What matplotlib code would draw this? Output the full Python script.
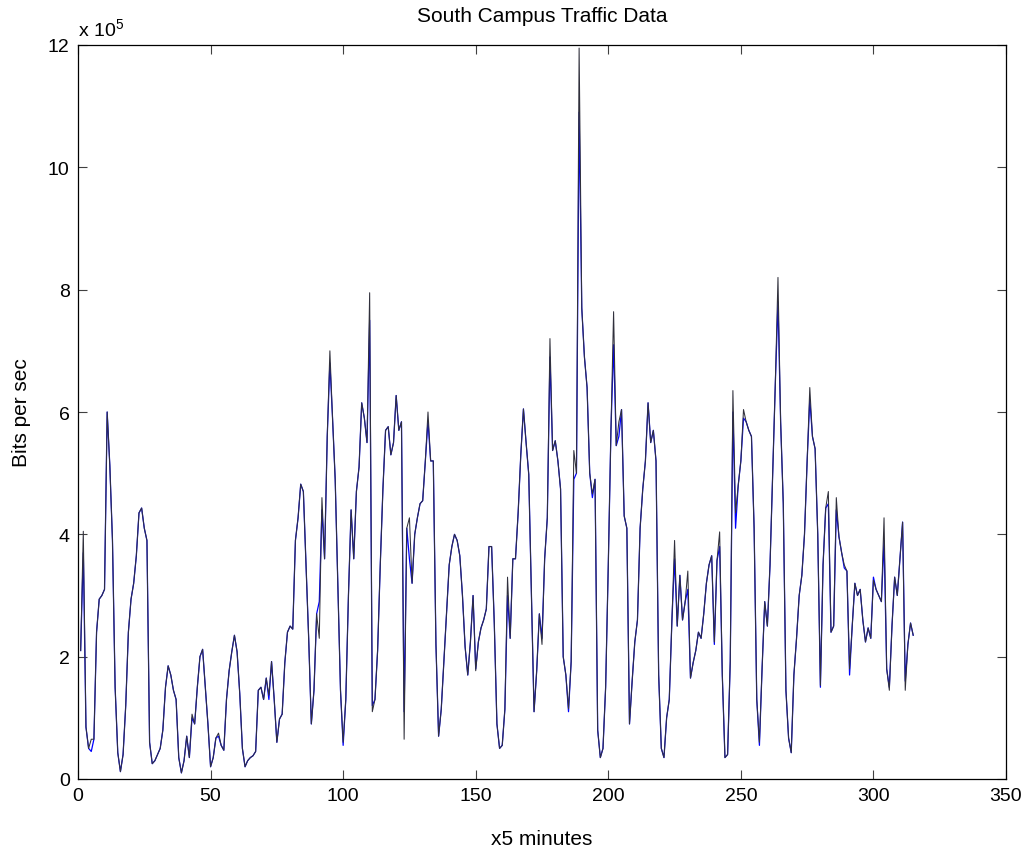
import matplotlib
matplotlib.use("Agg")
import matplotlib.pyplot as plt

# -------------------------
# Data (bits per sec, in units of 1e5)
# -------------------------

measured = [
    2.1, 4.05, 0.85, 0.5, 0.65, 0.65, 2.4, 2.94, 3.0, 3.1,
    6.0, 5.13, 3.9, 1.5, 0.43, 0.12, 0.4, 1.2, 2.4, 2.94,
    3.2, 3.65, 4.35, 4.43, 4.1, 3.9, 0.6, 0.25, 0.3, 0.4,
    0.5, 0.8, 1.5, 1.85, 1.7, 1.45, 1.3, 0.35, 0.1, 0.3,
    0.7, 0.35, 1.06, 0.9, 1.5, 2.0, 2.12, 1.5, 0.9, 0.2,
    0.35, 0.67, 0.75, 0.55, 0.47, 1.3, 1.77, 2.08, 2.35, 2.08,
    1.4, 0.5, 0.2, 0.3, 0.35, 0.38, 0.45, 1.45, 1.5, 1.3,
    1.65, 1.37, 1.92, 1.3, 0.6, 0.98, 1.06, 1.9, 2.4, 2.5,
    2.45, 3.9, 4.27, 4.82, 4.7, 3.5, 2.3, 0.9, 1.45, 2.7,
    2.3, 4.6, 3.6, 5.6, 7.0, 5.9, 4.9, 3.2, 1.45, 0.6,
    1.3, 3.0, 4.4, 3.6, 4.7, 5.1, 6.15, 5.9, 5.5, 7.95,
    1.1, 1.3, 2.1, 3.5, 4.74, 5.7, 5.76, 5.3, 5.5, 6.27,
    5.7, 5.84, 0.65, 4.1, 4.27, 3.2, 4.0, 4.27, 4.5, 4.55,
    5.2, 6.0, 5.2, 5.2, 2.2, 0.7, 1.14, 1.92, 2.7, 3.5,
    3.8, 4.0, 3.9, 3.65, 3.0, 2.16, 1.7, 2.24, 3.0, 1.77,
    2.24, 2.47, 2.6, 2.78, 3.8, 3.8, 2.55, 0.9, 0.5, 0.55,
    1.14, 3.3, 2.3, 3.6, 3.6, 4.35, 5.3, 6.05, 5.5, 4.98,
    3.0, 1.1, 1.77, 2.7, 2.2, 3.6, 4.27, 7.2, 5.37, 5.53,
    5.2, 4.74, 2.0, 1.7, 1.15, 1.92, 5.37, 5.0, 11.95, 7.7,
    6.9, 6.4, 5.0, 4.66, 4.9, 0.8, 0.35, 0.5, 1.5, 3.5,
    5.7, 7.64, 5.45, 5.84, 6.04, 4.3, 4.1, 0.9, 1.6, 2.24,
    2.6, 4.1, 4.74, 5.2, 6.15, 5.5, 5.7, 5.2, 1.7, 0.5,
    0.35, 1.0, 1.3, 2.6, 3.9, 2.5, 3.33, 2.6, 2.9, 3.4,
    1.65, 1.9, 2.1, 2.4, 2.3, 2.7, 3.2, 3.5, 3.65, 2.24,
    3.57, 4.04, 1.7, 0.35, 0.4, 1.92, 6.35, 4.35, 4.8, 5.2,
    6.04, 5.84, 5.7, 5.6, 4.1, 1.3, 0.6, 1.8, 2.9, 2.5,
    3.5, 5.0, 6.47, 8.2, 5.84, 4.5, 1.45, 0.67, 0.43, 1.7,
    2.3, 3.0, 3.33, 4.0, 5.2, 6.4, 5.6, 5.4, 4.0, 1.53,
    3.5, 4.43, 4.7, 2.4, 2.5, 4.6, 3.96, 3.7, 3.5, 3.4,
    1.8, 2.5, 3.2, 3.0, 3.1, 2.6, 2.24, 2.47, 2.3, 3.25,
    3.1, 3.0, 2.9, 4.27, 1.8, 1.45, 2.5, 3.3, 3.0, 3.6,
    4.2, 1.45, 2.2, 2.55, 2.35,
]

# the blue series follows the black one except at these samples (index, value)
blue_points = [
    (2, 3.7), (5, 0.45), (43, 1.0), (53, 0.7), (72, 1.3), (91, 2.9),
    (92, 4.4), (95, 6.8), (100, 0.55), (110, 7.5), (111, 1.2), (123, 1.1),
    (125, 3.6), (132, 5.85), (150, 1.8), (162, 3.0), (175, 2.3), (178, 6.9),
    (185, 1.1), (187, 4.9), (189, 10.9), (194, 4.6), (202, 7.1), (204, 5.6),
    (225, 3.6), (230, 3.1), (240, 2.2), (242, 3.8), (247, 6.0), (248, 4.1),
    (251, 5.9), (257, 0.55), (264, 7.8), (276, 6.2), (280, 1.5), (283, 4.5),
    (286, 4.4), (289, 3.45), (291, 1.7), (300, 3.3), (304, 3.9), (306, 1.5),
    (312, 1.6),
]

x_ticks = [0, 50, 100, 150, 200, 250, 300, 350]
y_ticks = [0, 2, 4, 6, 8, 10, 12]

# -------------------------
# Plot
# -------------------------

plt.rcParams["font.family"] = ["Liberation Sans", "DejaVu Sans"]
plt.rcParams["mathtext.fontset"] = "custom"
plt.rcParams["mathtext.rm"] = "Liberation Sans"

samples = list(range(1, len(measured) + 1))
blue = list(measured)
for idx, val in blue_points:
    blue[idx - 1] = val

fig = plt.figure(figsize=(10.34, 8.54), dpi=100)
ax = fig.add_axes([78 / 1034, 1 - 780 / 854, 928 / 1034, 734 / 854])

ax.plot(samples, blue, color="#0000ff", linewidth=0.9)
ax.plot(samples, measured, color="#30303c", linewidth=0.75)

ax.set_xlim(0, 350)
ax.set_ylim(0, 12)
ax.set_xticks(x_ticks)
ax.set_yticks(y_ticks)
ax.tick_params(direction="in", length=6.5, width=0.8, color="#404040",
               top=True, right=True, labelsize=14, pad=6)
for s in ax.spines.values():
    s.set_linewidth(0.9)

ax.set_title("South Campus Traffic Data", fontsize=15, pad=17)
ax.set_xlabel("x5 minutes", fontsize=15, labelpad=18)
ax.set_ylabel("Bits per sec", fontsize=15, labelpad=12)
ax.text(0.0, 1.006, r"x 10$^{5}$", transform=ax.transAxes, fontsize=14,
        ha="left", va="bottom")

fig.savefig("out.png", dpi=100)
